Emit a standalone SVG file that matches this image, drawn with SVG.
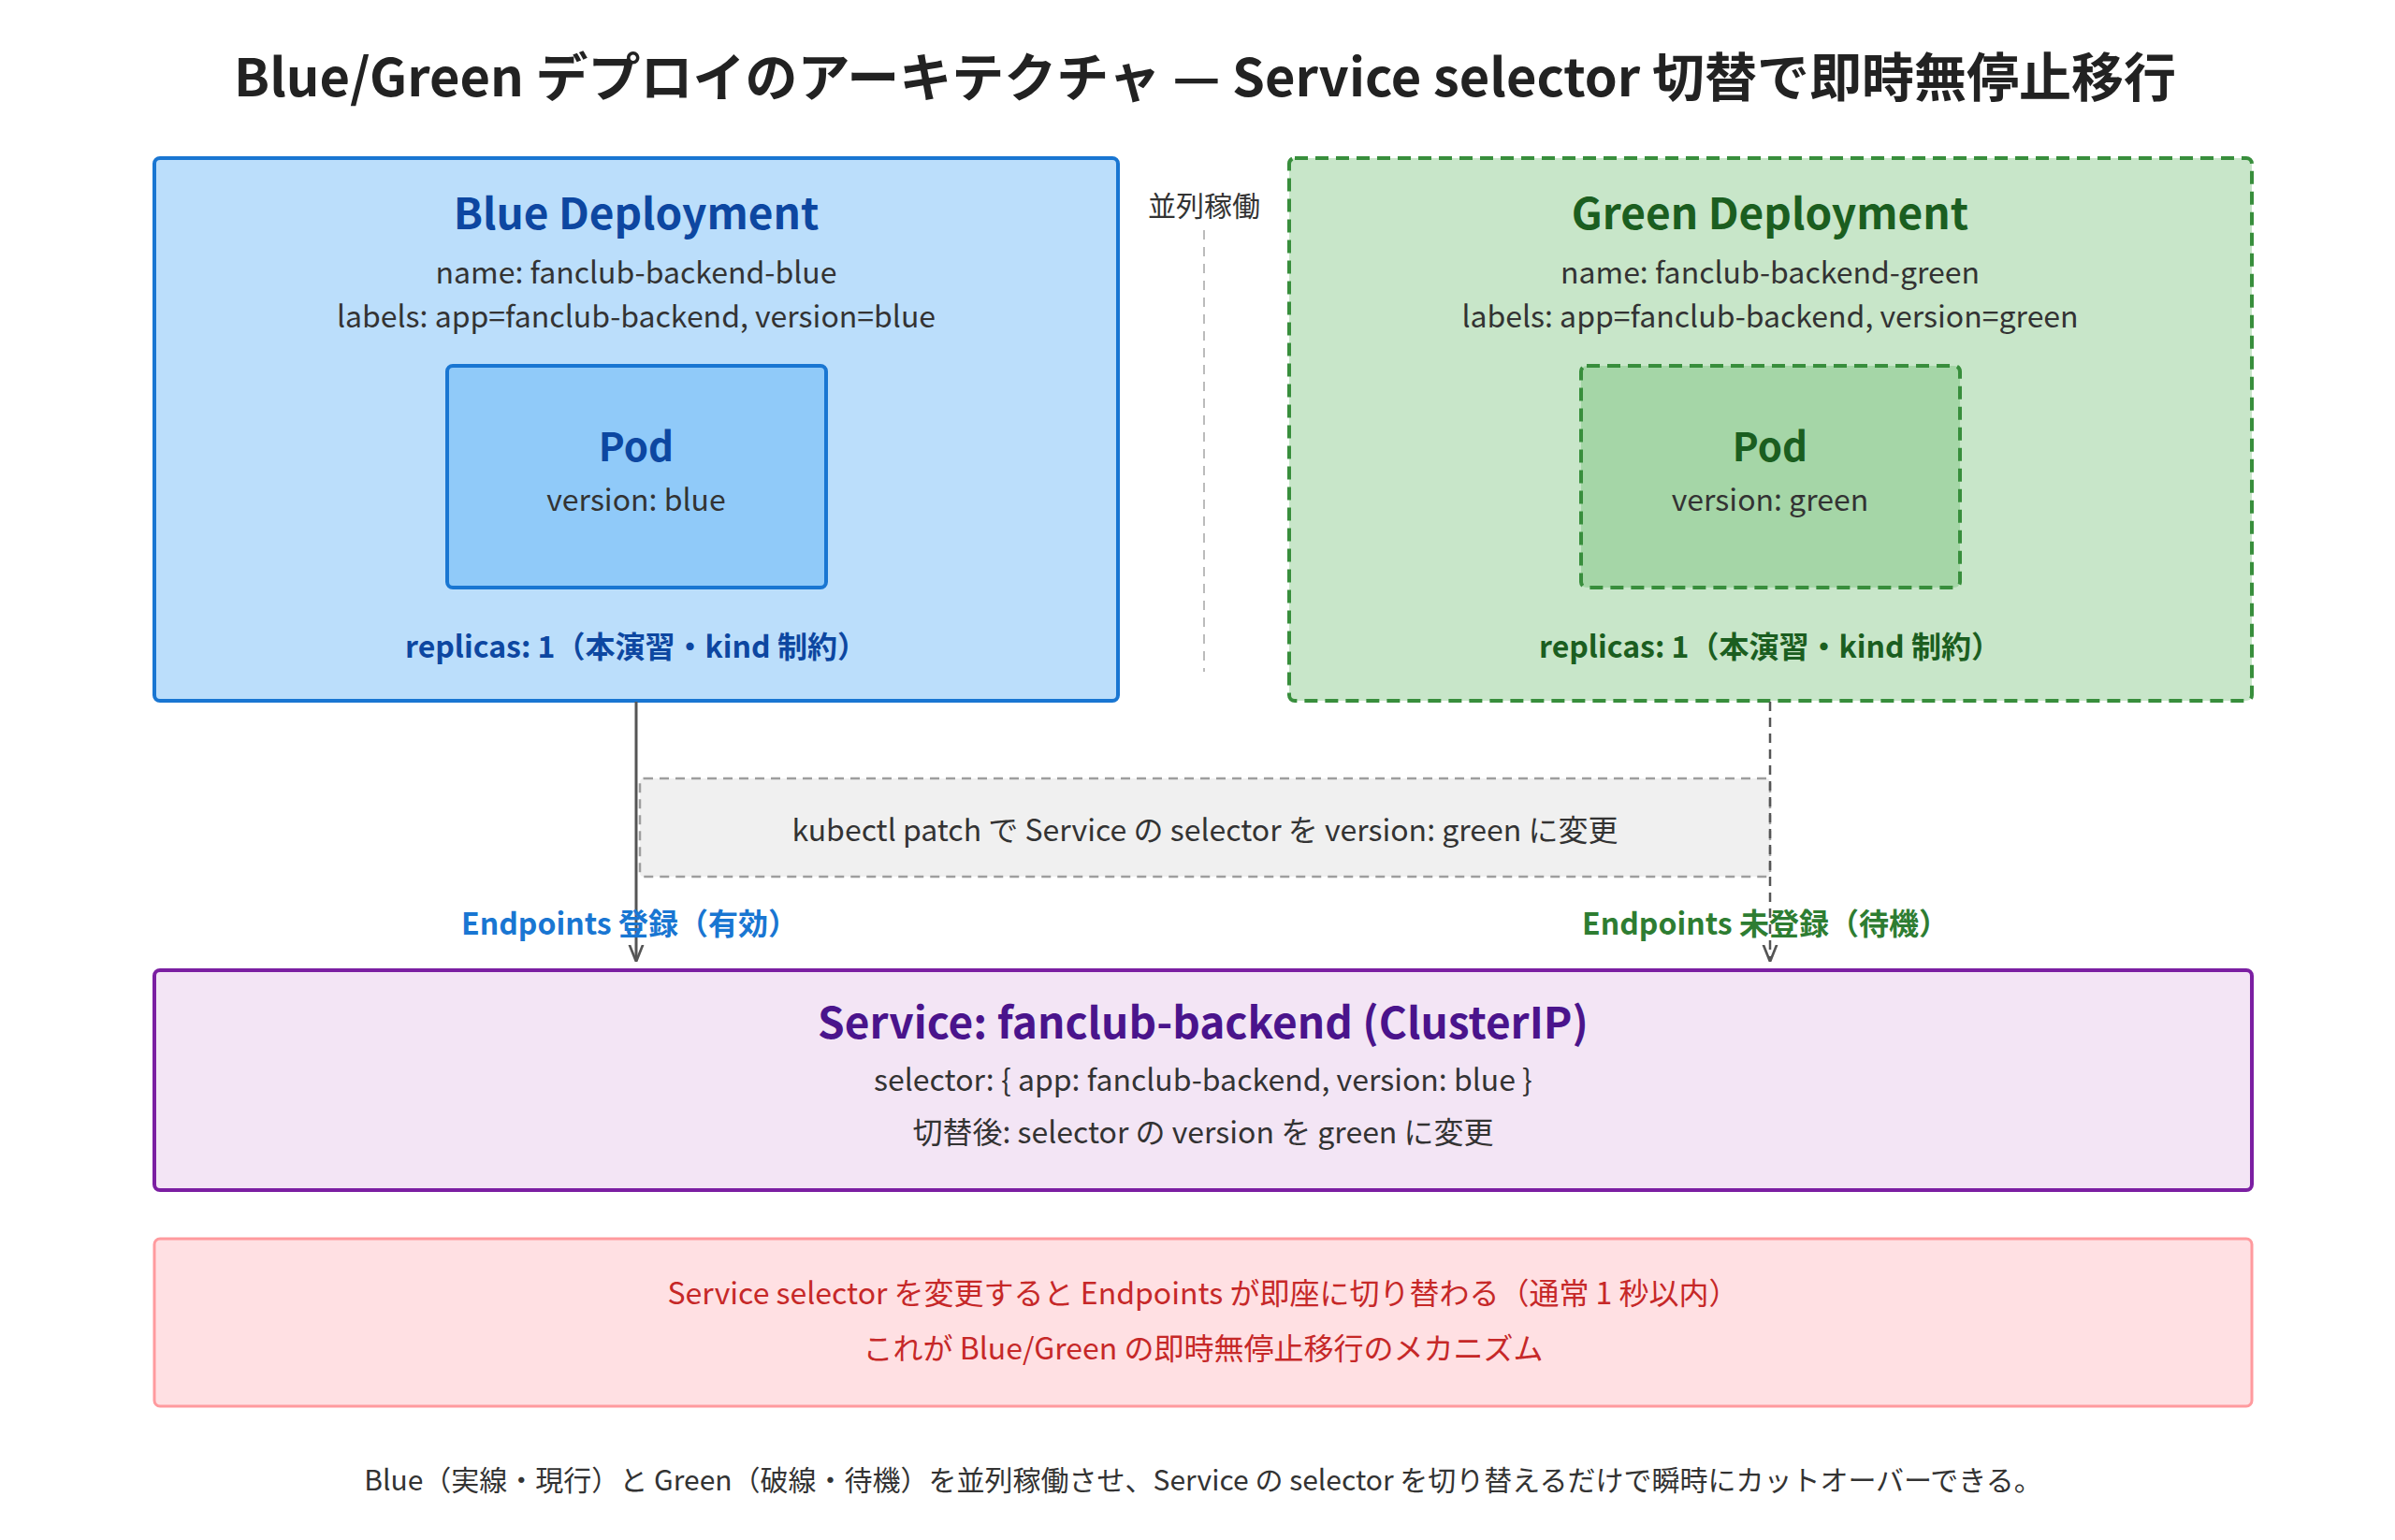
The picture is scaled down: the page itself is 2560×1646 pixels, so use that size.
<svg xmlns="http://www.w3.org/2000/svg" width="2560" height="1646" viewBox="0 0 2560 1646">
<style>
text{font-family:"Noto Sans CJK JP","Noto Sans",sans-serif;text-anchor:middle;dominant-baseline:central}
.t{font-size:32px;fill:#333}
.r{font-size:32px;fill:#c62828}
.h{font-size:46px;font-weight:bold}
.b{font-weight:bold;font-size:32px}
</style>
<defs>
<marker id="a2" viewBox="0 0 10 10" refX="9" refY="5" markerWidth="18" markerHeight="18" orient="auto" markerUnits="userSpaceOnUse"><path d="M0,1 L10,5 L0,9" fill="none" stroke="#555" stroke-width="1.5"/></marker>
</defs>
<rect width="2560" height="1646" fill="#fff"/>
<text x="1288" y="78" style="font-size:56px;font-weight:bold;fill:#222">Blue/Green デプロイのアーキテクチャ — Service selector 切替で即時無停止移行</text>
<g id="blue">
<rect x="165" y="169" width="1030" height="580" rx="6" fill="#bbdefb" stroke="#1976d2" stroke-width="4"/>
<text x="680" y="225" class="h" fill="#0d47a1">Blue Deployment</text>
<text x="680" y="289" class="t">name: fanclub-backend-blue</text>
<text x="680" y="336" class="t">labels: app=fanclub-backend, version=blue</text>
<rect x="478" y="391" width="405" height="237" rx="6" fill="#90caf9" stroke="#1976d2" stroke-width="4"/>
<text x="680" y="474" class="h" style="font-size:42px" fill="#0d47a1">Pod</text>
<text x="680" y="532" class="t">version: blue</text>
<text x="680" y="689" class="b" fill="#0d47a1">replicas: 1（本演習・kind 制約）</text>
</g>
<g id="green">
<rect x="1378" y="169" width="1029" height="580" rx="6" fill="#c8e6c9" stroke="#388e3c" stroke-width="4" stroke-dasharray="14 8"/>
<text x="1892" y="225" class="h" fill="#1b5e20">Green Deployment</text>
<text x="1892" y="289" class="t">name: fanclub-backend-green</text>
<text x="1892" y="336" class="t">labels: app=fanclub-backend, version=green</text>
<rect x="1690" y="391" width="405" height="237" rx="6" fill="#a5d6a7" stroke="#388e3c" stroke-width="4" stroke-dasharray="14 8"/>
<text x="1892" y="474" class="h" style="font-size:42px" fill="#1b5e20">Pod</text>
<text x="1892" y="532" class="t">version: green</text>
<text x="1892" y="689" class="b" fill="#1b5e20">replicas: 1（本演習・kind 制約）</text>
</g>
<g id="parallel">
<text x="1287" y="218" class="t" style="font-size:30px">並列稼働</text>
<line x1="1287" y1="246" x2="1287" y2="718" stroke="#bbb" stroke-width="2" stroke-dasharray="10 8"/>
</g>
<g id="patch">
<rect x="684" y="832" width="1208" height="105" rx="4" fill="#f0f0f0" stroke="#9e9e9e" stroke-width="2.5" stroke-dasharray="10 7"/>
<text x="1288" y="885" class="t">kubectl patch で Service の selector を version: green に変更</text>
</g>
<g id="connectors">
<line x1="680" y1="750" x2="680" y2="1026" stroke="#555" stroke-width="3" marker-end="url(#a2)"/>
<line x1="1892" y1="750" x2="1892" y2="1026" stroke="#555" stroke-width="2.5" stroke-dasharray="10 7" marker-end="url(#a2)"/>
<text x="673" y="985" class="b" fill="#1976d2">Endpoints 登録（有効）</text>
<text x="1887" y="985" class="b" fill="#2e7d32">Endpoints 未登録（待機）</text>
</g>
<g id="service">
<rect x="165" y="1037" width="2242" height="235" rx="6" fill="#f3e5f5" stroke="#7b1fa2" stroke-width="4"/>
<text x="1286" y="1090" class="h" fill="#4a148c">Service: fanclub-backend (ClusterIP)</text>
<text x="1286" y="1152" class="t">selector: { app: fanclub-backend, version: blue }</text>
<text x="1286" y="1208" class="t">切替後: selector の version を green に変更</text>
</g>
<g id="note">
<rect x="165" y="1324" width="2242" height="179" rx="6" fill="#ffe0e3" stroke="#ff9a9e" stroke-width="3"/>
<text x="1286" y="1380" class="r">Service selector を変更すると Endpoints が即座に切り替わる（通常 1 秒以内）</text>
<text x="1286" y="1439" class="r">これが Blue/Green の即時無停止移行のメカニズム</text>
</g>
<text x="1286" y="1580" class="t" style="font-size:30px">Blue（実線・現行）と Green（破線・待機）を並列稼働させ、Service の selector を切り替えるだけで瞬時にカットオーバーできる。</text>
</svg>
